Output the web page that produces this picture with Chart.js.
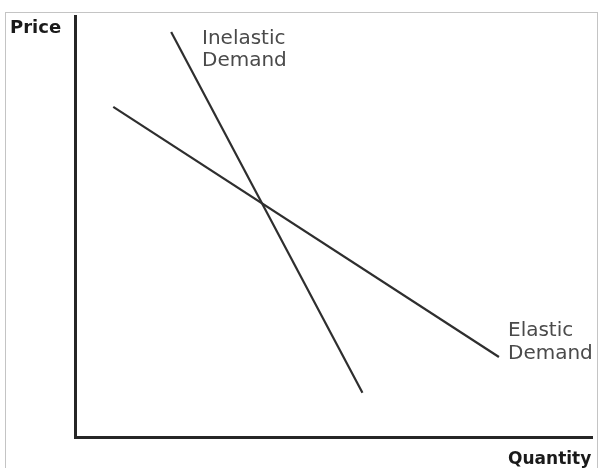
<!DOCTYPE html>
<html>
<head>
<meta charset="utf-8">
<script src="https://cdn.jsdelivr.net/npm/chart.js@4"></script>
<style>
  html, body { margin: 0; padding: 0; background: #fff; }
  #wrap { position: relative; width: 598px; height: 468px; overflow: hidden; }
  #frame { position: absolute; left: 5px; top: 12px; width: 593px; height: 470px; border: 1px solid #c4c4c4; box-sizing: border-box; }
  canvas { position: absolute; left: 0; top: 0; }
</style>
</head>
<body>
<div id="wrap">
  <div id="frame"></div>
  <canvas id="c" width="598" height="468"></canvas>
</div>
<script>
// Demand curves (abstract units: quantity 0-100, price 0-100)
const inelasticQuantity = [18.6, 55.6];
const inelasticPrice    = [96.2, 10.5];
const elasticQuantity   = [7.4, 82.0];
const elasticPrice      = [78.4, 19.0];

const seriesNames = ['Inelastic Demand', 'Elastic Demand'];
const axisTitles = { x: 'Quantity', y: 'Price' };

function toPoints(xs, ys) { return xs.map((x, i) => ({ x: x, y: ys[i] })); }

const textPlugin = {
  id: 'chartText',
  afterDraw(chart) {
    const ctx = chart.ctx;
    ctx.save();
    ctx.textBaseline = 'alphabetic';
    ctx.textAlign = 'left';
    // axis titles
    ctx.fillStyle = '#1a1a1a';
    ctx.font = 'bold 18px "DejaVu Sans"';
    ctx.fillText(axisTitles.y, 10, 33);
    ctx.font = 'bold 17px "DejaVu Sans"';
    ctx.fillText(axisTitles.x, 508, 464);
    // curve labels
    ctx.fillStyle = '#4a4a4a';
    ctx.font = '20px "DejaVu Sans"';
    const inel = seriesNames[0].split(' ');
    ctx.fillText(inel[0], 202, 44);
    ctx.fillText(inel[1], 202, 66);
    const el = seriesNames[1].split(' ');
    ctx.fillText(el[0], 508, 336);
    ctx.fillText(el[1], 508, 359);
    ctx.restore();
  }
};

new Chart(document.getElementById('c'), {
  type: 'scatter',
  data: {
    datasets: [
      {
        label: seriesNames[0],
        data: toPoints(inelasticQuantity, inelasticPrice),
        showLine: true,
        borderColor: '#2e2e2e',
        borderWidth: 2.2,
        pointRadius: 0,
        fill: false
      },
      {
        label: seriesNames[1],
        data: toPoints(elasticQuantity, elasticPrice),
        showLine: true,
        borderColor: '#2e2e2e',
        borderWidth: 2.2,
        pointRadius: 0,
        fill: false
      }
    ]
  },
  options: {
    responsive: false,
    animation: false,
    devicePixelRatio: 1,
    layout: { padding: { left: 75, right: 6, top: 16, bottom: 31 } },
    plugins: {
      legend: { display: false },
      tooltip: { enabled: false },
      title: { display: false }
    },
    scales: {
      x: {
        type: 'linear',
        min: 0, max: 100,
        ticks: { display: false },
        grid: { display: false, drawTicks: false, tickLength: 0 },
        border: { display: true, color: '#262626', width: 3 }
      },
      y: {
        type: 'linear',
        min: 0, max: 100,
        ticks: { display: false },
        grid: { display: false, drawTicks: false, tickLength: 0 },
        border: { display: true, color: '#262626', width: 3 }
      }
    }
  },
  plugins: [textPlugin]
});
</script>
</body>
</html>
